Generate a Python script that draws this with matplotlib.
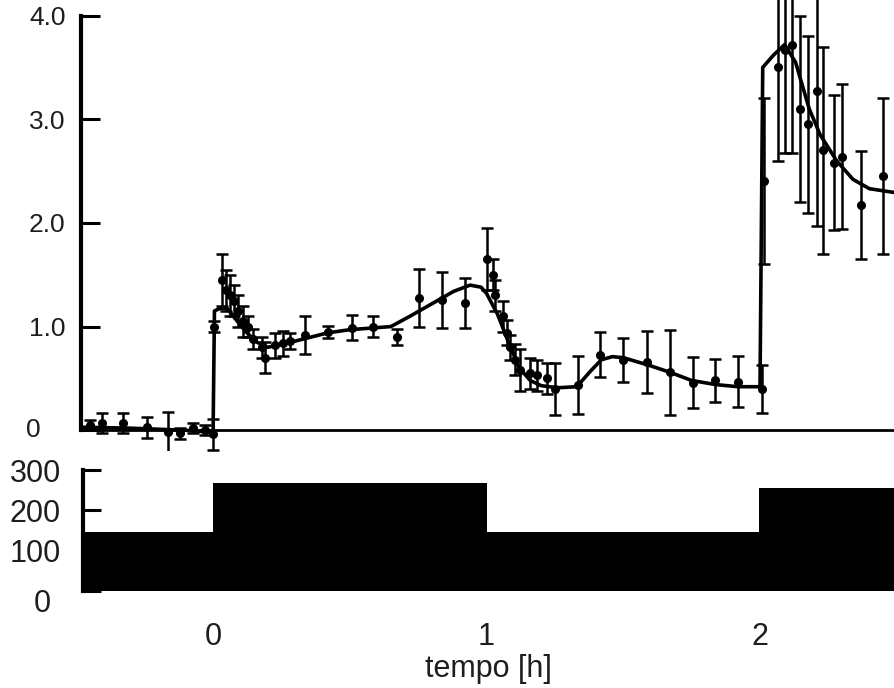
import matplotlib
matplotlib.use("Agg")
import matplotlib.pyplot as plt
from matplotlib.transforms import ScaledTranslation

plt.rcParams['font.family'] = ['Liberation Sans', 'DejaVu Sans']

# smooth fitted curve (time in h, value)
fit_t = [-0.49, -0.3, -0.1, 0.0, 0.005, 0.02, 0.05, 0.08, 0.12, 0.16, 0.2, 0.3, 0.42,
         0.5, 0.6, 0.65, 0.72, 0.8, 0.88, 0.94, 0.98, 1.0, 1.04, 1.08, 1.12, 1.16,
         1.2, 1.26, 1.33, 1.38, 1.42, 1.46, 1.5, 1.59, 1.67, 1.75, 1.84, 1.92, 2.0,
         2.01, 2.05, 2.09, 2.13, 2.18, 2.22, 2.28, 2.34, 2.4, 2.5]
fit_v = [0.03, 0.02, 0.0, -0.02, 1.15, 1.17, 1.18, 1.08, 0.95, 0.85, 0.8, 0.86, 0.94,
         0.97, 0.99, 1.0, 1.1, 1.22, 1.34, 1.4, 1.38, 1.32, 1.12, 0.85, 0.6, 0.48,
         0.43, 0.41, 0.42, 0.57, 0.68, 0.71, 0.7, 0.63, 0.56, 0.48, 0.44, 0.42, 0.42,
         3.5, 3.62, 3.72, 3.55, 3.1, 2.85, 2.6, 2.42, 2.33, 2.29]

# measured points with error bars
pt_t = [-0.45, -0.406, -0.33, -0.24, -0.165, -0.12, -0.073, -0.03, 0.0,
        0.004, 0.033, 0.048, 0.062, 0.077, 0.09, 0.11, 0.128, 0.146, 0.18, 0.19,
        0.227, 0.256, 0.28, 0.336, 0.42, 0.508, 0.585, 0.673, 0.753, 0.837, 0.92,
        1.0, 1.024, 1.03, 1.06, 1.075, 1.086, 1.104, 1.122, 1.16, 1.185, 1.22, 1.25,
        1.335, 1.415, 1.5, 1.587, 1.67, 1.755, 1.835, 1.92, 2.007,
        2.015, 2.066, 2.09, 2.117, 2.146, 2.175, 2.21, 2.23, 2.27, 2.3, 2.37, 2.45]
pt_v = [0.05, 0.07, 0.07, 0.03, -0.02, -0.03, 0.02, 0.0, -0.04,
        1.0, 1.45, 1.35, 1.3, 1.25, 1.15, 1.05, 1.0, 0.88, 0.8, 0.7,
        0.82, 0.84, 0.86, 0.92, 0.95, 0.99, 1.0, 0.9, 1.28, 1.26, 1.23,
        1.65, 1.5, 1.3, 1.1, 0.94, 0.8, 0.68, 0.58, 0.55, 0.53, 0.5, 0.4,
        0.44, 0.73, 0.68, 0.66, 0.56, 0.46, 0.48, 0.47, 0.4,
        2.4, 3.5, 3.67, 3.72, 3.1, 2.95, 3.27, 2.7, 2.58, 2.64, 2.17, 2.45]
pt_e = [0.05, 0.1, 0.1, 0.1, 0.2, 0.05, 0.05, 0.05, 0.15,
        0.05, 0.25, 0.2, 0.2, 0.15, 0.15, 0.15, 0.1, 0.1, 0.1, 0.15,
        0.12, 0.12, 0.08, 0.18, 0.06, 0.12, 0.1, 0.08, 0.28, 0.27, 0.24,
        0.3, 0.15, 0.15, 0.15, 0.12, 0.12, 0.15, 0.2, 0.15, 0.15, 0.15, 0.25,
        0.28, 0.22, 0.21, 0.3, 0.41, 0.25, 0.21, 0.25, 0.23,
        0.8, 0.9, 1.0, 1.05, 0.9, 0.85, 1.3, 1.0, 0.65, 0.7, 0.52, 0.75]

# infusion rate steps (bottom panel)
rate_edges = [-0.49, 0.0, 1.0, 1.995, 2.5]
rate_vals = [146, 268, 146, 256]

top_ticks = [0, 1, 2, 3, 4]
top_labels = ['0', '1.0', '2.0', '3.0', '4.0']
bot_ticks = [0, 100, 200, 300]
x_ticks = [0, 1, 2]

W, H = 894, 688
fig = plt.figure(figsize=(W / 100, H / 100), dpi=100)
ax = fig.add_axes([81 / W, 1 - 451 / H, 813 / W, 451 / H])
ax2 = fig.add_axes([83 / W, 1 - 591 / H, 811 / W, 133 / H])
ink = '#1e1e1e'

# top panel
ax.plot(fit_t, fit_v, color='black', lw=2.6, zorder=3)
ax.errorbar(pt_t, pt_v, yerr=pt_e, fmt='o', ms=5.5, color='black',
            elinewidth=1.8, capsize=4, capthick=1.8, zorder=4)
ax.set_xlim(-0.483, 2.49)
ax.set_ylim(-0.2, 4.15)
ax.spines['top'].set_visible(False)
ax.spines['right'].set_visible(False)
ax.spines['bottom'].set_position(('data', 0))
ax.spines['bottom'].set_linewidth(2)
ax.spines['left'].set_linewidth(3)
ax.spines['left'].set_bounds(0, 4)
ax.set_xticks([])
ax.set_yticks(top_ticks)
ax.set_yticklabels(top_labels)
ax.tick_params(axis='y', direction='in', length=14, width=2.2, pad=11,
               labelsize=19, labelcolor=ink)
# the "0" labels sit further left in the original
lab0 = ax.get_yticklabels()[0]
lab0.set_transform(lab0.get_transform() + ScaledTranslation(-0.25, 0.03, fig.dpi_scale_trans))

# bottom panel
ax2.stairs(rate_vals, rate_edges, fill=True, color='black')
ax2.set_xlim(-0.476, 2.49)
ax2.set_ylim(0, 330)
for s in ['top', 'right', 'bottom']:
    ax2.spines[s].set_visible(False)
ax2.spines['left'].set_linewidth(3)
ax2.spines['left'].set_bounds(0, 300)
ax2.set_yticks(bot_ticks)
ax2.set_yticklabels([str(v) for v in bot_ticks])
ax2.tick_params(axis='y', direction='in', length=13, width=2.2, pad=16,
                labelsize=22, labelcolor=ink)
lab0b = ax2.get_yticklabels()[0]
lab0b.set_transform(lab0b.get_transform() + ScaledTranslation(-0.1, -0.09, fig.dpi_scale_trans))
ax2.set_xticks(x_ticks)
ax2.set_xticklabels([str(v) for v in x_ticks])
ax2.tick_params(axis='x', length=0, pad=22, labelsize=22, labelcolor=ink)
ax2.set_xlabel('tempo [h]', fontsize=22, color=ink, labelpad=2)

fig.savefig('out.png', dpi=100)
